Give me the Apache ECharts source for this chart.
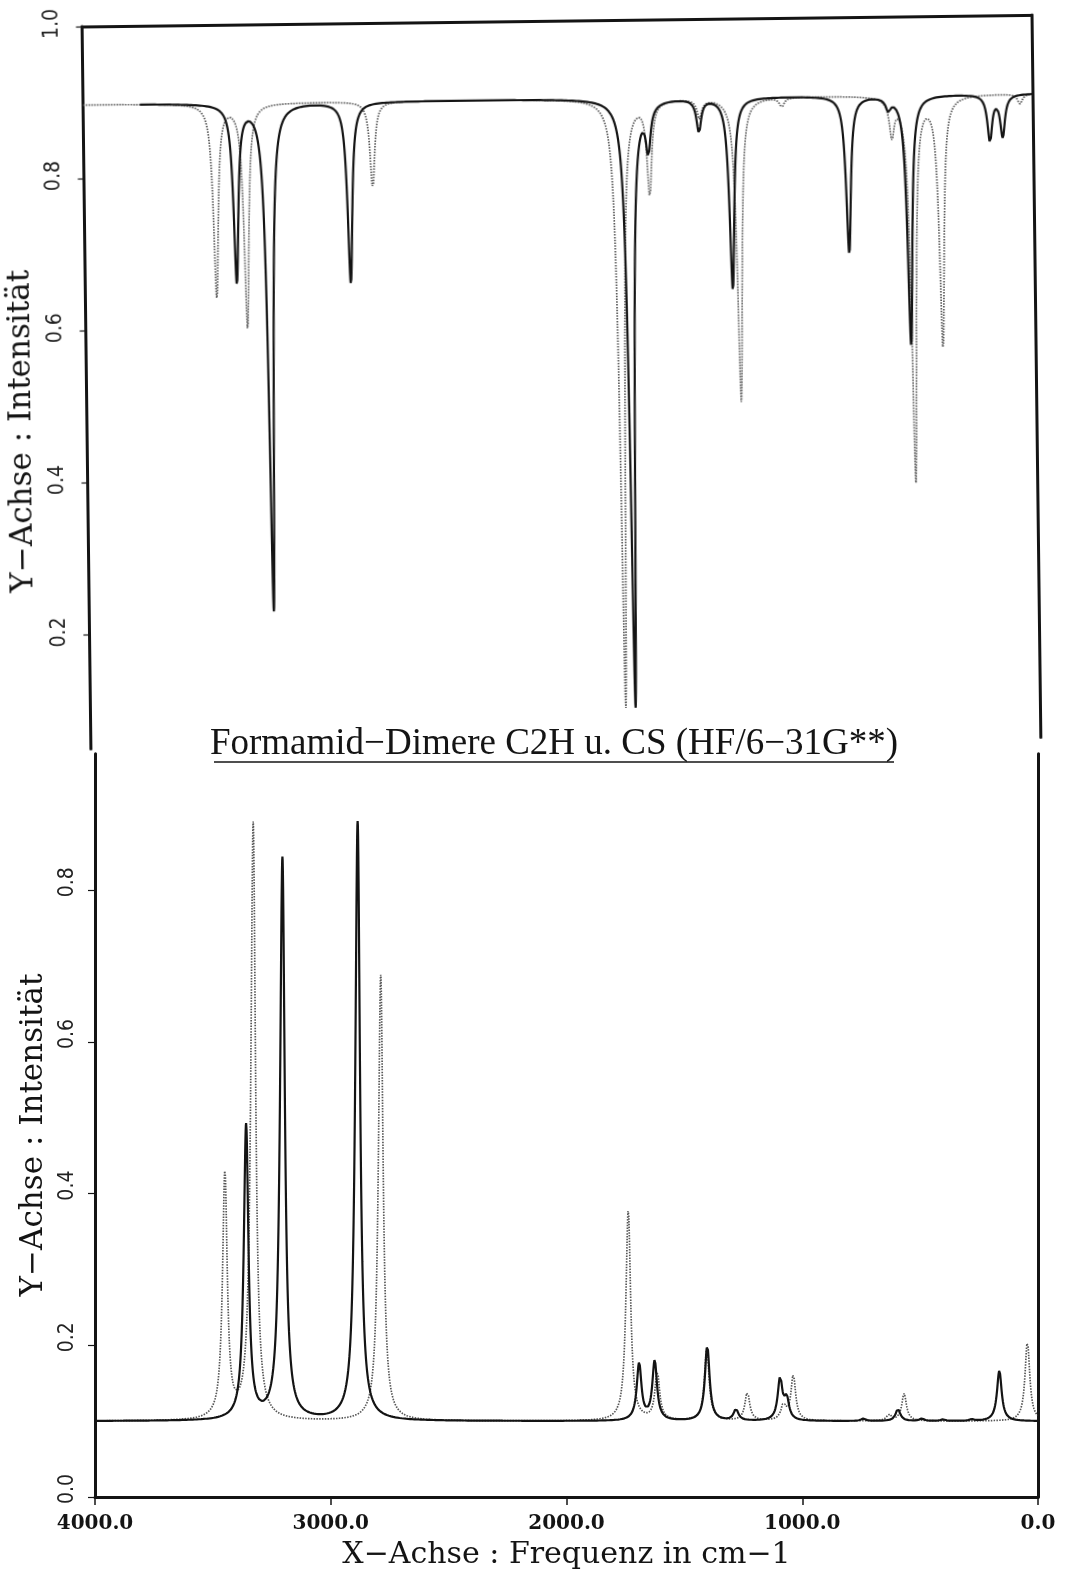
<!DOCTYPE html>
<html>
<head>
<meta charset="utf-8">
<title>Formamid-Dimere C2H u. CS (HF/6-31G**)</title>
<script src="https://cdn.jsdelivr.net/npm/echarts@6/dist/echarts.min.js"></script>
<style>
  html, body { margin: 0; padding: 0; background: #ffffff; }
  #page { position: relative; width: 1069px; height: 1576px; overflow: hidden; background: #ffffff; }
  #lower { position: absolute; left: 0; top: 0; width: 1069px; height: 1576px; }
  /* the upper plot sheet sits slightly tilted on the page */
  #upper { position: absolute; left: 0; top: 0; width: 1069px; height: 770px;
           transform: rotate(-0.7deg); transform-origin: 534.5px 385px; }
</style>
</head>
<body>
<div id="page">
  <div id="lower"></div>
  <div id="upper"></div>
</div>
<script>
// ---- axis ticks ----------------------------------------------------------
const xTickValues = [4000, 3000, 2000, 1000, 0];
const yTicksUpper = [0.2, 0.4, 0.6, 0.8, 1.0];
const yTicksLower = [0.0, 0.2, 0.4, 0.6, 0.8];

// ---- upper spectrum: bands drawn as dips below the baseline --------------
const upperBase = 0.897;
const upperBlackStart = 3760;
const upperBlackFreq  = [3361, 3222, 2881, 1704, 1622, 1408, 1273, 781, 610, 525, 183, 129];
const upperBlackDepth = [0.234, 0.667, 0.239, 0.800, 0.060, 0.043, 0.253, 0.207, 0.015, 0.330, 0.061, 0.055];
const upperGreyFreq   = [3446, 3318, 2784, 1745, 1618, 1405, 1243, 1058, 596, 512, 391, 55];
const upperGreyDepth  = [0.255, 0.296, 0.114, 0.800, 0.123, 0.025, 0.400, 0.012, 0.048, 0.506, 0.329, 0.013];

// ---- lower spectrum: bands drawn as peaks above the baseline -------------
const lowerBase = 0.100;
const lowerBlackFreq   = [3359, 3205, 2886, 1692, 1626, 1403, 1281, 1094, 1066, 741, 594, 493, 403, 281, 164];
const lowerBlackHeight = [0.388, 0.741, 0.790, 0.075, 0.078, 0.099, 0.015, 0.055, 0.027, 0.003, 0.016, 0.003, 0.002, 0.002, 0.0665];
const lowerGreyFreq    = [3449, 3329, 2788, 1738, 1615, 1405, 1233, 1080, 1038, 632, 568, 45];
const lowerGreyHeight  = [0.324, 0.787, 0.588, 0.278, 0.063, 0.095, 0.038, 0.020, 0.060, 0.008, 0.036, 0.105];

// Lorentzian band width (full width at half maximum, cm-1)
const bandFWHM = 24;

// Broadened spectrum: every band is a Lorentzian of the given amplitude
function spectrum(freqs, amps, base, direction, fromFreq) {
  const half = bandFWHM / 2;
  const pts = [];
  for (let f = fromFreq; f >= 0; f -= 1) {
    let s = 0;
    for (let i = 0; i < freqs.length; i++) {
      const d = (f - freqs[i]) / half;
      s += amps[i] / (1 + d * d);
    }
    pts.push([f, +(base + direction * s).toFixed(5)]);
  }
  return pts;
}

const INK = '#141414';
const tickFont = "'Liberation Sans Narrow', 'DejaVu Sans Condensed', 'Liberation Sans', sans-serif";
const serifWide = "'DejaVu Serif', serif";

const solidLine = { color: INK, width: 2.2 };
const dottedLine = { color: '#575757', width: 1.7, type: [1.5, 1.3] };

function frameAxis(pos, min, max) {
  return {
    type: 'value', min: min, max: max, position: pos,
    axisLine: { show: true, onZero: false, lineStyle: { color: INK, width: 3 } },
    axisTick: { show: false }, axisLabel: { show: false }, splitLine: { show: false }
  };
}

// ---- upper chart ---------------------------------------------------------
const upper = echarts.init(document.getElementById('upper'));
upper.setOption({
  animation: false,
  grid: { left: 86.4, top: 19.5, width: 950, height: 724 },
  xAxis: Object.assign(frameAxis('top', 0, 4000), { inverse: true }),
  yAxis: [
    {
      type: 'value', min: 0.05, max: 1.0, position: 'left',
      axisLine: { show: true, onZero: false, lineStyle: { color: INK, width: 3 } },
      axisTick: { show: true, length: 6, customValues: yTicksUpper, lineStyle: { color: INK, width: 1.2 } },
      axisLabel: {
        customValues: yTicksUpper, rotate: 90, margin: 19, padding: [0, 0, 0, 6],
        formatter: v => v.toFixed(1),
        color: '#222', fontFamily: tickFont, fontSize: 21
      },
      splitLine: { show: false }
    },
    frameAxis('right', 0.05, 1.0)
  ],
  graphic: [{
    type: 'text', x: 22, y: 425, rotation: Math.PI / 2,
    style: { text: 'Y−Achse : Intensität', fill: INK, font: "31px 'DejaVu Serif', serif",
             align: 'center', verticalAlign: 'middle' }
  }],
  series: [
    { name: 'CS', type: 'line', showSymbol: false, silent: true, yAxisIndex: 0,
      lineStyle: dottedLine, data: spectrum(upperGreyFreq, upperGreyDepth, upperBase, -1, 4000) },
    { name: 'C2H', type: 'line', showSymbol: false, silent: true, yAxisIndex: 0,
      lineStyle: solidLine, data: spectrum(upperBlackFreq, upperBlackDepth, upperBase, -1, upperBlackStart) }
  ]
});

// ---- lower chart ---------------------------------------------------------
const lower = echarts.init(document.getElementById('lower'));
lower.setOption({
  animation: false,
  grid: { left: 95, top: 753.7, width: 943, height: 743.3 },
  xAxis: {
    type: 'value', min: 0, max: 4000, interval: 1000, inverse: true, position: 'bottom',
    axisLine: { show: true, onZero: false, lineStyle: { color: INK, width: 3 } },
    axisTick: { show: true, length: 8, customValues: xTickValues, lineStyle: { color: INK, width: 1.5 } },
    axisLabel: {
      customValues: xTickValues, margin: 17,
      formatter: v => v.toFixed(1),
      color: INK, fontFamily: serifWide, fontWeight: 'bold', fontSize: 20
    },
    splitLine: { show: false },
    name: 'X−Achse : Frequenz in cm−1', nameLocation: 'middle', nameGap: 43,
    nameTextStyle: { color: INK, fontFamily: serifWide, fontSize: 30 }
  },
  yAxis: [
    {
      type: 'value', min: 0, max: 0.98, position: 'left',
      axisLine: { show: true, onZero: false, lineStyle: { color: INK, width: 3 } },
      axisTick: { show: true, length: 7, customValues: yTicksLower, lineStyle: { color: INK, width: 1.2 } },
      axisLabel: {
        customValues: yTicksLower, rotate: 90, margin: 17, padding: [0, 0, 0, 16],
        formatter: v => v.toFixed(1),
        color: '#222', fontFamily: tickFont, fontSize: 21
      },
      splitLine: { show: false }
    },
    frameAxis('right', 0, 0.98)
  ],
  graphic: [
    {
      type: 'text', x: 554, y: 744,
      style: { text: 'Formamid−Dimere C2H u. CS (HF/6−31G**)', fill: INK,
               font: "37px 'Liberation Serif', serif", align: 'center', verticalAlign: 'middle' }
    },
    {
      type: 'line', shape: { x1: 214, y1: 762, x2: 894, y2: 762 },
      style: { stroke: INK, lineWidth: 1.6 }
    },
    {
      type: 'text', x: 34, y: 1135, rotation: Math.PI / 2,
      style: { text: 'Y−Achse : Intensität', fill: INK, font: "31px 'DejaVu Serif', serif",
               align: 'center', verticalAlign: 'middle' }
    }
  ],
  series: [
    { name: 'CS', type: 'line', showSymbol: false, silent: true, yAxisIndex: 0,
      lineStyle: dottedLine, data: spectrum(lowerGreyFreq, lowerGreyHeight, lowerBase, 1, 4000) },
    { name: 'C2H', type: 'line', showSymbol: false, silent: true, yAxisIndex: 0,
      lineStyle: solidLine, data: spectrum(lowerBlackFreq, lowerBlackHeight, lowerBase, 1, 4000) }
  ]
});
</script>
</body>
</html>
